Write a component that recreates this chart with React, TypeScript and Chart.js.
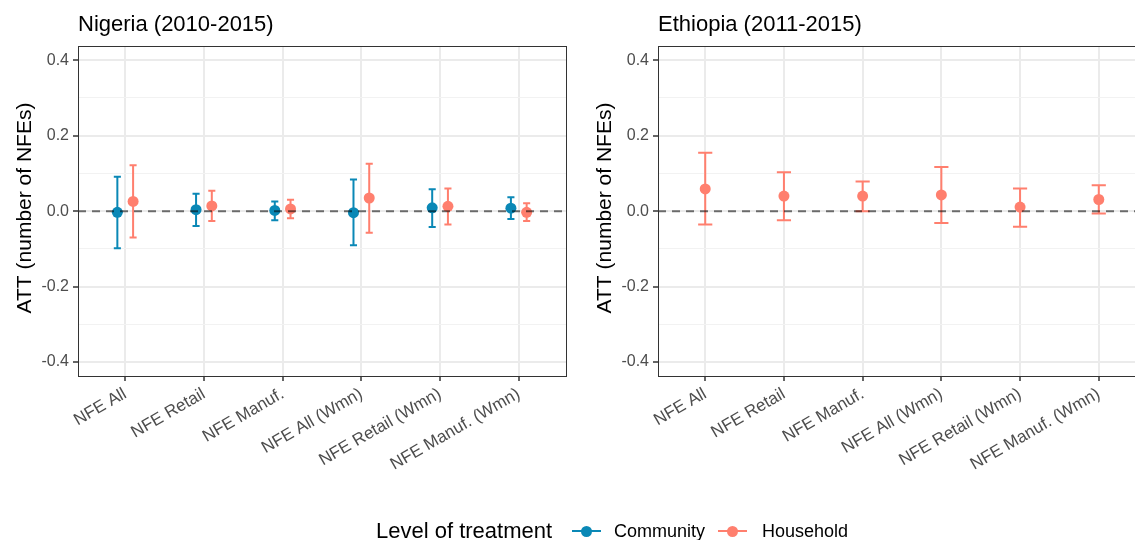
import React, { useEffect, useRef } from "react";
import { Chart, registerables } from "chart.js";

Chart.register(...registerables);

const categories = [
  "NFE All",
  "NFE Retail",
  "NFE Manuf.",
  "NFE All (Wmn)",
  "NFE Retail (Wmn)",
  "NFE Manuf. (Wmn)",
];

const yTickValues = [-0.4, -0.3, -0.2, -0.1, 0, 0.1, 0.2, 0.3, 0.4];

const nigeriaCommunityEst = [-0.003, 0.004, 0.002, -0.004, 0.009, 0.008];
const nigeriaCommunityLo = [-0.098, -0.039, -0.024, -0.09, -0.042, -0.021];
const nigeriaCommunityHi = [0.091, 0.046, 0.026, 0.084, 0.058, 0.037];

const nigeriaHouseholdEst = [0.026, 0.014, 0.006, 0.035, 0.013, -0.003];
const nigeriaHouseholdLo = [-0.07, -0.026, -0.019, -0.057, -0.035, -0.026];
const nigeriaHouseholdHi = [0.122, 0.054, 0.03, 0.126, 0.06, 0.021];

const ethiopiaHouseholdEst = [0.059, 0.04, 0.04, 0.043, 0.011, 0.031];
const ethiopiaHouseholdLo = [-0.035, -0.024, 0.0, -0.031, -0.041, -0.006];
const ethiopiaHouseholdHi = [0.155, 0.103, 0.079, 0.117, 0.06, 0.069];

const COMMUNITY = "#0A88B6";
const HOUSEHOLD = "#FF7F6E";
const FONT = "'Liberation Sans', Arial, Helvetica, sans-serif";

type Series = {
  name: string;
  color: string;
  est: number[];
  lo: number[];
  hi: number[];
  offset: number;
};

const isMajor = (v: number) => Math.abs(Math.round(v * 10)) % 2 === 0;

function makeConfig(title: string, series: Series[], capHalf: number): any {
  const panelPlugin = {
    id: "panelPlugin",
    beforeDatasetsDraw(chart: any) {
      const ctx = chart.ctx;
      const xs = chart.scales.x;
      const ys = chart.scales.y;
      ctx.save();
      series.forEach((s) => {
        ctx.strokeStyle = s.color;
        ctx.lineWidth = 2;
        s.est.forEach((_, i) => {
          const xv = i + 1 + s.offset;
          const px = xs.getPixelForValue(xv);
          const pl = xs.getPixelForValue(xv - capHalf);
          const pr = xs.getPixelForValue(xv + capHalf);
          const yl = ys.getPixelForValue(s.lo[i]);
          const yh = ys.getPixelForValue(s.hi[i]);
          ctx.beginPath();
          ctx.moveTo(px, yl);
          ctx.lineTo(px, yh);
          ctx.moveTo(pl, yl);
          ctx.lineTo(pr, yl);
          ctx.moveTo(pl, yh);
          ctx.lineTo(pr, yh);
          ctx.stroke();
        });
      });
      ctx.restore();
    },
    afterDatasetsDraw(chart: any) {
      const ctx = chart.ctx;
      const a = chart.chartArea;
      const y0 = chart.scales.y.getPixelForValue(0);
      ctx.save();
      ctx.strokeStyle = "rgba(0,0,0,0.55)";
      ctx.lineWidth = 1.9;
      ctx.setLineDash([8, 6]);
      ctx.beginPath();
      ctx.moveTo(a.left, y0);
      ctx.lineTo(a.right, y0);
      ctx.stroke();
      ctx.restore();
    },
    afterDraw(chart: any) {
      const ctx = chart.ctx;
      const a = chart.chartArea;
      ctx.save();
      ctx.strokeStyle = "#333333";
      ctx.lineWidth = 1;
      ctx.strokeRect(
        Math.round(a.left) + 0.5,
        Math.round(a.top) + 0.5,
        Math.round(a.right - a.left),
        Math.round(a.bottom - a.top)
      );
      ctx.fillStyle = "#000000";
      ctx.font = `22px ${FONT}`;
      ctx.textAlign = "left";
      ctx.textBaseline = "alphabetic";
      ctx.fillText(title, a.left, 31);
      ctx.translate(31, (a.top + a.bottom) / 2 - 3);
      ctx.rotate(-Math.PI / 2);
      ctx.textAlign = "center";
      ctx.font = `21px ${FONT}`;
      ctx.fillText("ATT (number of NFEs)", 0, 0);
      ctx.restore();
    },
  };

  return {
    type: "scatter",
    data: {
      datasets: series.map((s) => ({
        label: s.name,
        data: s.est.map((y, i) => ({ x: i + 1 + s.offset, y })),
        pointRadius: 5.5,
        pointBackgroundColor: s.color,
        pointBorderColor: s.color,
        pointBorderWidth: 0,
        showLine: false,
      })),
    },
    options: {
      animation: false,
      responsive: false,
      devicePixelRatio: 1,
      layout: { padding: { top: 46, right: 14, left: 0, bottom: 0 } },
      plugins: {
        legend: { display: false },
        tooltip: { enabled: false },
        title: { display: false },
      },
      scales: {
        x: {
          type: "linear",
          min: 0.4,
          max: 6.6,
          afterBuildTicks: (s: any) => {
            s.ticks = categories.map((_, i) => ({ value: i + 1 }));
          },
          afterFit: (s: any) => {
            s.height = 164;
          },
          ticks: {
            autoSkip: false,
            minRotation: 30,
            maxRotation: 30,
            padding: 3,
            color: "#4D4D4D",
            font: { family: FONT, size: 17 },
            callback: (v: any) => categories[Math.round(Number(v)) - 1] ?? "",
          },
          grid: {
            color: "#EBEBEB",
            lineWidth: 2,
            tickLength: 5,
            tickColor: "#333333",
            tickWidth: 1.5,
          },
          border: { display: false },
        },
        y: {
          type: "linear",
          min: -0.437,
          max: 0.438,
          afterBuildTicks: (s: any) => {
            s.ticks = yTickValues.map((v) => ({ value: v }));
          },
          afterFit: (s: any) => {
            s.width = 78;
          },
          ticks: {
            padding: 4,
            color: "#4D4D4D",
            font: { family: FONT, size: 16 },
            callback: (v: any) => (isMajor(Number(v)) ? Number(v).toFixed(1) : ""),
          },
          grid: {
            color: (c: any) => (c.tick && isMajor(c.tick.value) ? "#EBEBEB" : "#F2F2F2"),
            lineWidth: (c: any) => (c.tick && isMajor(c.tick.value) ? 2 : 1.1),
            tickLength: 5,
            tickColor: (c: any) =>
              c.tick && isMajor(c.tick.value) ? "#333333" : "rgba(0,0,0,0)",
            tickWidth: 1.5,
          },
          border: { display: false },
        },
      },
    },
    plugins: [panelPlugin],
  };
}

function Panel({ title, series, capHalf, left }: { title: string; series: Series[]; capHalf: number; left: number }) {
  const ref = useRef<HTMLCanvasElement | null>(null);
  useEffect(() => {
    if (!ref.current) return;
    const chart = new Chart(ref.current, makeConfig(title, series, capHalf));
    return () => chart.destroy();
  }, []);
  return (
    <canvas
      ref={ref}
      width={580}
      height={540}
      style={{ position: "absolute", left, top: 0, width: 580, height: 540 }}
    />
  );
}

function LegendKey({ x, color }: { x: number; color: string }) {
  return (
    <>
      <div style={{ position: "absolute", left: x, top: 530, width: 29, height: 2, background: color }} />
      <div
        style={{
          position: "absolute",
          left: x + 14.5 - 5.5,
          top: 531 - 5.5,
          width: 11,
          height: 11,
          borderRadius: "50%",
          background: color,
        }}
      />
    </>
  );
}

export default function App() {
  const nigeria: Series[] = [
    { name: "Community", color: COMMUNITY, est: nigeriaCommunityEst, lo: nigeriaCommunityLo, hi: nigeriaCommunityHi, offset: -0.1 },
    { name: "Household", color: HOUSEHOLD, est: nigeriaHouseholdEst, lo: nigeriaHouseholdLo, hi: nigeriaHouseholdHi, offset: 0.1 },
  ];
  const ethiopia: Series[] = [
    { name: "Household", color: HOUSEHOLD, est: ethiopiaHouseholdEst, lo: ethiopiaHouseholdLo, hi: ethiopiaHouseholdHi, offset: 0 },
  ];
  const textStyle = (left: number, size: number): React.CSSProperties => ({
    position: "absolute",
    left,
    top: 531 - 14,
    height: 28,
    lineHeight: "28px",
    fontSize: size,
    fontFamily: FONT,
    color: "#000",
    whiteSpace: "nowrap",
  });
  return (
    <div
      style={{
        position: "fixed",
        left: 0,
        top: 0,
        width: 1135,
        height: 540,
        overflow: "hidden",
        background: "#fff",
      }}
    >
      <Panel title="Nigeria (2010-2015)" series={nigeria} capHalf={0.045} left={0} />
      <Panel title="Ethiopia (2011-2015)" series={ethiopia} capHalf={0.09} left={580} />
      <div style={textStyle(376, 22)}>Level of treatment</div>
      <LegendKey x={572} color={COMMUNITY} />
      <div style={textStyle(614, 18)}>Community</div>
      <LegendKey x={718} color={HOUSEHOLD} />
      <div style={textStyle(762, 18)}>Household</div>
    </div>
  );
}
